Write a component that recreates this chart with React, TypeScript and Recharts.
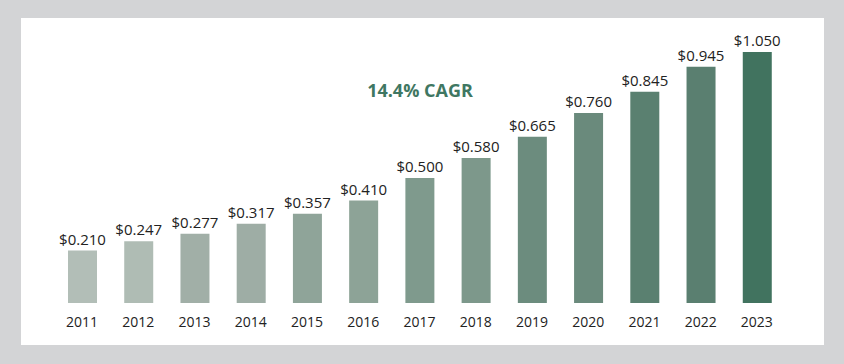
import { BarChart, Bar, XAxis, YAxis, Cell, LabelList } from 'recharts'

const years = ['2011', '2012', '2013', '2014', '2015', '2016', '2017', '2018', '2019', '2020', '2021', '2022', '2023']
// bar heights as drawn in the source picture (the 2023 bar is drawn shorter than its label)
const barValues = [0.21, 0.247, 0.277, 0.317, 0.357, 0.41, 0.5, 0.58, 0.665, 0.76, 0.845, 0.945, 1.004]
const valueLabels = ['$0.210', '$0.247', '$0.277', '$0.317', '$0.357', '$0.410', '$0.500', '$0.580', '$0.665', '$0.760', '$0.845', '$0.945', '$1.050']
const barColors = [
  '#b2beb7', '#afbcb4', '#a1afa7', '#9eada5', '#8fa499', '#8da397', '#7f9a8d',
  '#7d988b', '#6c8c7e', '#6a8a7c', '#5a8070', '#5a7f70', '#41735f',
]
const cagrLabel = '14.4% CAGR'

const data = years.map((year, i) => ({ year, value: barValues[i], label: valueLabels[i] }))

export default function App() {
  return (
    <div
      style={{
        position: 'absolute',
        left: 0,
        top: 0,
        width: 844,
        height: 364,
        background: '#d3d4d6',
        fontFamily: '"Open Sans", sans-serif',
      }}
    >
      <div style={{ position: 'absolute', left: 21, top: 18, width: 803, height: 327, background: '#fff' }}>
        <BarChart width={803} height={327} data={data} margin={{ top: 10, right: 39, bottom: 0, left: 33 }}>
          <XAxis
            dataKey="year"
            axisLine={false}
            tickLine={false}
            height={42}
            tickMargin={8}
            tick={{ fill: '#222', fontSize: 14 }}
          />
          <YAxis hide domain={[0, 1.1]} />
          <Bar dataKey="value" barSize={29} isAnimationActive={false}>
            {data.map((_, i) => (
              <Cell key={`cell-${i}`} fill={barColors[i]} />
            ))}
            <LabelList dataKey="label" position="top" offset={6} fill="#222" fontSize={15} />
          </Bar>
        </BarChart>
        <span
          style={{
            position: 'absolute',
            left: 399,
            top: 60,
            transform: 'translateX(-50%)',
            fontSize: 18,
            fontWeight: 700,
            color: '#3f7762',
            whiteSpace: 'nowrap',
          }}
        >
          {cagrLabel}
        </span>
      </div>
    </div>
  )
}
